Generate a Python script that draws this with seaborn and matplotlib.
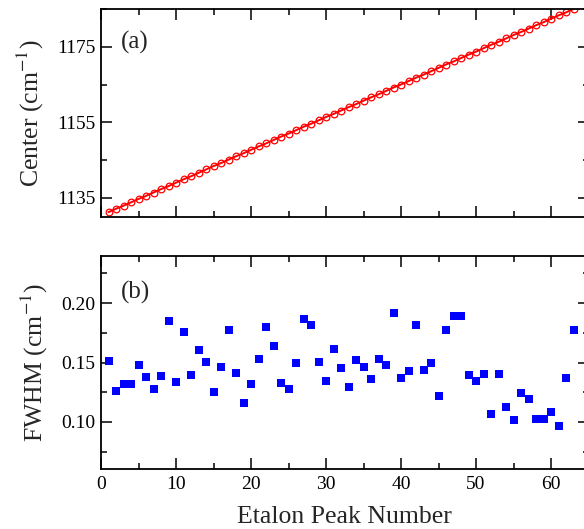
import numpy as np
import pandas as pd
import matplotlib
matplotlib.use("Agg")
import matplotlib.pyplot as plt
import seaborn as sns
from matplotlib.ticker import MultipleLocator, FixedLocator

peak = list(range(1, 64))

center = [1131.2, 1132.1, 1132.9, 1133.8, 1134.7, 1135.5, 1136.4, 1137.3, 1138.1, 1139.0,
          1139.9, 1140.7, 1141.6, 1142.5, 1143.4, 1144.2, 1145.1, 1146.0, 1146.8, 1147.7,
          1148.6, 1149.4, 1150.3, 1151.2, 1152.0, 1152.9, 1153.8, 1154.6, 1155.5, 1156.4,
          1157.2, 1158.1, 1159.0, 1159.8, 1160.7, 1161.6, 1162.4, 1163.3, 1164.2, 1165.0,
          1165.9, 1166.8, 1167.6, 1168.5, 1169.4, 1170.3, 1171.1, 1172.0, 1172.9, 1173.7,
          1174.6, 1175.5, 1176.3, 1177.2, 1178.1, 1178.9, 1179.8, 1180.7, 1181.5, 1182.4,
          1183.3, 1184.1, 1185.0]

fwhm = [0.1515, 0.1262, 0.1315, 0.1318, 0.1476, 0.1377, 0.1279, 0.1383, 0.1848, 0.1338,
        0.1758, 0.1397, 0.1606, 0.1507, 0.1251, 0.1459, 0.1777, 0.1414, 0.1155, 0.1315,
        0.1530, 0.1797, 0.1642, 0.1327, 0.1276, 0.1496, 0.1870, 0.1820, 0.1501, 0.1344,
        0.1614, 0.1456, 0.1296, 0.1518, 0.1465, 0.1361, 0.1527, 0.1476, 0.1915, 0.1369,
        0.1428, 0.1817, 0.1434, 0.1493, 0.1217, 0.1775, 0.1890, 0.1893, 0.1394, 0.1341,
        0.1400, 0.1065, 0.1406, 0.1127, 0.1014, 0.1242, 0.1189, 0.1020, 0.1020, 0.1082,
        0.0969, 0.1372, 0.1775]

xlabel = "Etalon Peak Number"
ylabel_a = r"Center (cm$^{-1}$)"
ylabel_b = r"FWHM (cm$^{-1}$)"

sns.set_theme(style="ticks")
plt.rcParams["font.family"] = ["Liberation Serif", "DejaVu Serif"]
plt.rcParams["mathtext.fontset"] = "stix"

df = pd.DataFrame({"peak": peak, "center": center, "fwhm": fwhm})

fig = plt.figure(figsize=(5.84, 5.29), dpi=100)
W = 65 * 7.5 / 584
ax1 = fig.add_axes([101 / 584, 1 - 216.7 / 529, W, (216.7 - 9) / 529])
ax2 = fig.add_axes([101 / 584, 1 - 469.3 / 529, W, (469.3 - 255.7) / 529])

sns.lineplot(data=df, x="peak", y="center", ax=ax1, color="#ff0000", linewidth=1.4,
             marker="o", markersize=4.8, markerfacecolor="none",
             markeredgecolor="#ff0000", markeredgewidth=0.9)
sns.scatterplot(data=df, x="peak", y="fwhm", ax=ax2, color="#0000ff", marker="s",
                s=30, linewidth=0)

tick_fs = 14
for ax in (ax1, ax2):
    ax.set_xlim(0, 65)
    ax.xaxis.set_major_locator(MultipleLocator(10))
    ax.xaxis.set_minor_locator(MultipleLocator(5))
    ax.tick_params(which="both", direction="in", top=True, right=True,
                   width=1.1, colors="black", labelsize=tick_fs, pad=4)
    ax.tick_params(which="major", length=8)
    ax.tick_params(which="minor", length=4)
    for sp in ax.spines.values():
        sp.set_linewidth(1.3)
        sp.set_color("black")
        sp.set_visible(True)
    ax.set_facecolor("white")

ax1.set_ylim(1130, 1185)
ax1.yaxis.set_major_locator(FixedLocator([1135, 1155, 1175]))
ax1.yaxis.set_minor_locator(FixedLocator([1145, 1165, 1185]))
ax1.tick_params(labelbottom=False)
ax1.set_xlabel("")
ax1.set_ylabel(ylabel_a, fontsize=18.5, labelpad=8)

ax2.set_ylim(0.06, 0.24)
ax2.yaxis.set_major_locator(FixedLocator([0.10, 0.15, 0.20]))
ax2.yaxis.set_minor_locator(FixedLocator([0.075, 0.125, 0.175, 0.225]))
ax2.yaxis.set_major_formatter(matplotlib.ticker.FormatStrFormatter("%.2f"))
ax2.tick_params(axis="x", pad=5)
ax2.set_xlabel(xlabel, fontsize=18.5, labelpad=9)
ax2.set_ylabel(ylabel_b, fontsize=18.5, labelpad=8)

ax1.text(0.04, 0.84, "(a)", transform=ax1.transAxes, fontsize=18, ha="left", va="center")
ax2.text(0.04, 0.83, "(b)", transform=ax2.transAxes, fontsize=18, ha="left", va="center")

fig.savefig("out.png", dpi=100, facecolor="white")
